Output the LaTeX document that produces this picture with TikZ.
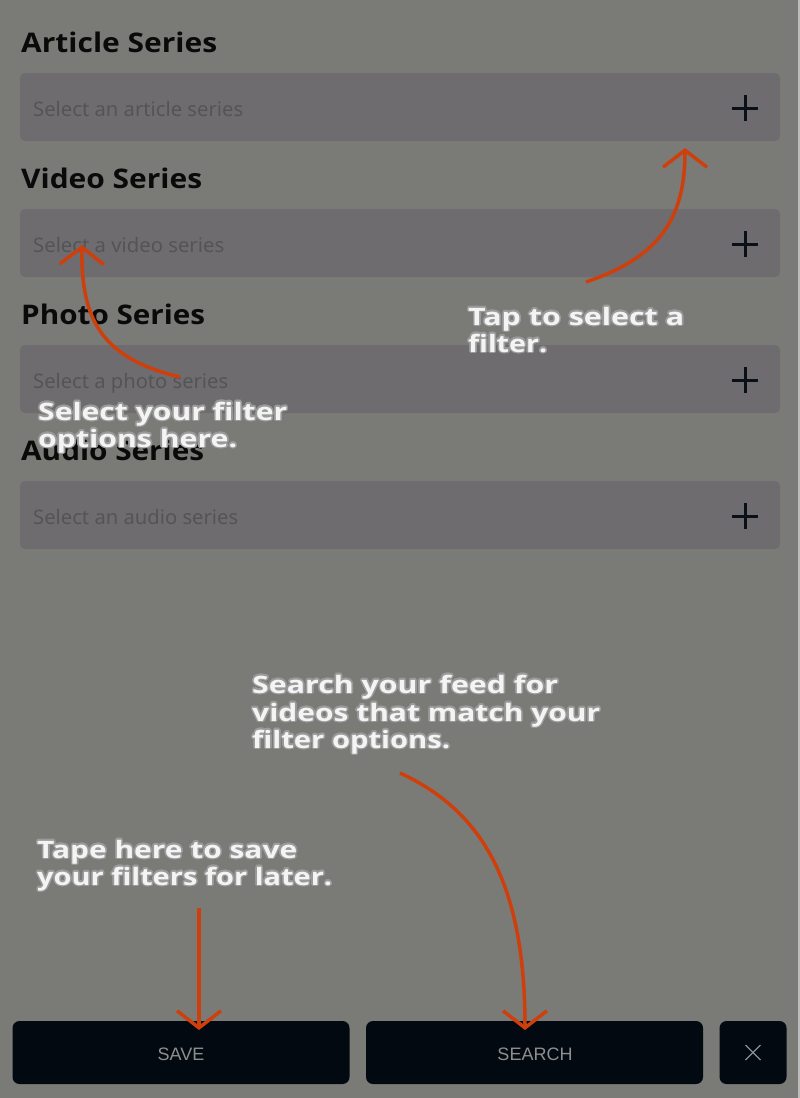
\documentclass[tikz,border=0pt]{standalone}
\usepackage{fontspec}
\usepackage{graphicx}
\usepackage[copies]{contour}
\usetikzlibrary{arrows.meta}
\setmainfont{Open Sans}
\newfontfamily\headfont{Open Sans}
\newfontfamily\notefont{Open Sans}
\newfontfamily\phfont{Noto Sans}
\newfontfamily\btnfont{Liberation Sans}
\definecolor{bgc}{HTML}{7A7B77}
\definecolor{edgec}{HTML}{BDBDBD}
\definecolor{fieldc}{HTML}{6E6C6F}
\definecolor{phc}{HTML}{545456}
\definecolor{headc}{HTML}{0A0A0A}
\definecolor{plusc}{HTML}{0A1018}
\definecolor{arrowc}{HTML}{CF3F0C}
\definecolor{btnc}{HTML}{020910}
\definecolor{btntext}{HTML}{8E8E8E}
\definecolor{glowc}{HTML}{9A9A9A}
\definecolor{notec}{HTML}{F4F4F4}
\contourlength{1.3pt}
\contournumber{12}
\newcommand\fitw[2]{\resizebox{#1pt}{\height}{#2}}
\newcommand\glowline[2]{\fitw{#1}{\contour{glowc}{#2}}}
\tikzset{
  field/.style={fill=fieldc, rounded corners=5pt, minimum width=760pt, minimum height=68pt, inner sep=0pt},
  plusline/.style={draw=plusc, line width=3pt},
  heading/.style={anchor=base west, inner sep=0pt, text=headc, font=\headfont\bfseries\fontsize{27}{30}\selectfont},
  placeholder/.style={anchor=base west, inner sep=0pt, text=phc, font=\phfont\fontsize{20}{22}\selectfont},
  btn/.style={fill=btnc, rounded corners=7pt, minimum height=63pt, inner sep=0pt, text=btntext, font=\btnfont\fontsize{18}{18}\selectfont},
  note/.style={anchor=base west, inner sep=0pt, text=notec, font=\notefont\bfseries\fontsize{24}{26}\selectfont},
  pointer/.style={draw=arrowc, line width=3.5pt, -{Straight Barb[length=17pt,width=44pt]}},
}
\begin{document}
\begin{tikzpicture}[x=1pt,y=-1pt]
\useasboundingbox (0,0) rectangle (800,1098);
\fill[bgc] (0,0) rectangle (800,1098);
\fill[edgec] (797.5,0) rectangle (800,1098);

% fields
\node[field] (f1) at (400,107) {};
\node[field] (f2) at (400,243) {};
\node[field] (f3) at (400,379) {};
\node[field] (f4) at (400,515) {};

% plus icons
\foreach \y/\n in {108/1,244/2,380/3,516/4}{
  \coordinate (p\n) at (745,\y);
  \draw[plusline] ([xshift=-13pt]p\n) -- ([xshift=13pt]p\n);
  \draw[plusline] ([yshift=-13pt]p\n) -- ([yshift=13pt]p\n);
}

% headings
\node[heading] (h1) at (21,52) {\fitw{196}{Article Series}};
\node[heading] (h2) at (21,188) {\fitw{181}{Video Series}};
\node[heading] (h3) at (21,324) {\fitw{184}{Photo Series}};
\node[heading] (h4) at (21,460) {\fitw{183}{Audio Series}};

% placeholders
\node[placeholder] (t1) at (33,116) {\fitw{210}{Select an article series}};
\node[placeholder] (t2) at (33,252) {\fitw{191}{Select a video series}};
\node[placeholder] (t3) at (33,388) {\fitw{195}{Select a photo series}};
\node[placeholder] (t4) at (33,524) {\fitw{205}{Select an audio series}};

% buttons
\node[btn, minimum width=337pt] (save) at (181,1052.5) {};
\node[btn, minimum width=337pt] (search) at (534.5,1052.5) {};
\node[btn, minimum width=67pt] (close) at (753,1052.5) {};
\node[anchor=base, inner sep=0pt, text=btntext, font=\btnfont\fontsize{18}{18}\selectfont] (savelbl) at (181,1060) {SAVE};
\node[anchor=base, inner sep=0pt, text=btntext, font=\btnfont\fontsize{18}{18}\selectfont] (searchlbl) at (535,1060) {SEARCH};
\draw[btntext, line width=1.3pt] ([xshift=-7.5pt,yshift=-7.5pt]close.center) -- ([xshift=7.5pt,yshift=7.5pt]close.center);
\draw[btntext, line width=1.3pt] ([xshift=-7.5pt,yshift=7.5pt]close.center) -- ([xshift=7.5pt,yshift=-7.5pt]close.center);

% arrows
\coordinate (a1s) at (586,282);
\coordinate (a1e) at (685,148);
\draw[pointer] (a1s) .. controls (660,257) and (685,218) .. (a1e);
\coordinate (a2s) at (180,377);
\coordinate (a2e) at (82,245);
\draw[pointer] (a2s) .. controls (100,358) and (81,318) .. (a2e);
\coordinate (a3s) at (400,773);
\coordinate (a3e) at (525,1030);
\draw[pointer] (a3s) .. controls (480,810) and (525,880) .. (a3e);
\coordinate (a4s) at (199,908);
\coordinate (a4e) at (199,1030);
\draw[pointer] (a4s) -- (a4e);

% annotations
\node[note] (n1a) at (468,325) {\glowline{216}{Tap to select a}};
\node[note] (n1b) at (468,352) {\glowline{79}{filter.}};
\node[note] (n2a) at (38,420) {\glowline{249}{Select your filter}};
\node[note] (n2b) at (38,447) {\glowline{199}{options here.}};
\node[note] (n3a) at (252,693) {\glowline{306}{Search your feed for}};
\node[note] (n3b) at (252,721) {\glowline{348}{videos that match your}};
\node[note] (n3c) at (252,748) {\glowline{198}{filter options.}};
\node[note] (n4a) at (37,858) {\glowline{260}{Tape here to save}};
\node[note] (n4b) at (37,885) {\glowline{295}{your filters for later.}};
\end{tikzpicture}
\end{document}
